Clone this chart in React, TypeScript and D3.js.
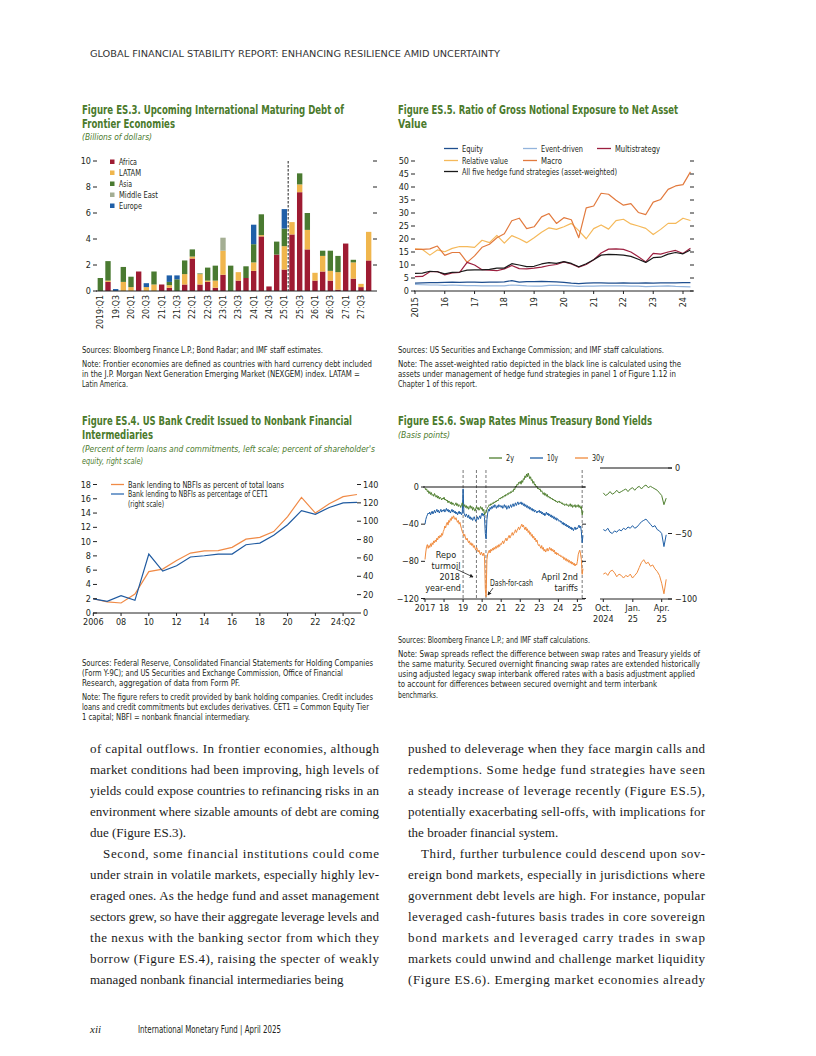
import React from 'react';
import * as d3 from 'd3';

const SANS = "'Liberation Sans Narrow','DejaVu Sans Condensed','Roboto Condensed','Liberation Sans',sans-serif";
const SERIF = "'Liberation Serif','DejaVu Serif',serif";
const GREEN = '#4b7a2c';
const INK = '#231f20';

// ---------- Figure ES.3 data ----------
const es3Quarters = ['2019Q1','2019Q2','2019Q3','2019Q4','2020Q1','2020Q2','2020Q3','2020Q4','2021Q1','2021Q2','2021Q3','2021Q4','2022Q1','2022Q2','2022Q3','2022Q4','2023Q1','2023Q2','2023Q3','2023Q4','2024Q1','2024Q2','2024Q3','2024Q4','2025Q1','2025Q2','2025Q3','2025Q4','2026Q1','2026Q2','2026Q3','2026Q4','2027Q1','2027Q2','2027Q3','2027Q4'];
const es3TickLabels = ['2019:Q1','19:Q3','20:Q1','20:Q3','21:Q1','21:Q3','22:Q1','22:Q3','23:Q1','23:Q3','24:Q1','24:Q3','25:Q1','25:Q3','26:Q1','26:Q3','27:Q1','27:Q3'];
const es3Regions = ['Africa','LATAM','Asia','Middle East','Europe'];
const es3Colors = ['#9e1b32','#f0b64d','#4a7a31','#a4ae93','#1f5fa8'];
const es3Africa = [0,0.7,0,0,0,1.5,0,0,0.5,0.25,0,0.5,2.5,0.5,0.7,0.25,1.25,0,0.8,1.0,1.55,4.2,0.35,2.8,1.65,4.35,7.6,3.2,0.8,1.5,0.8,0.1,3.65,0.95,0.3,2.35];
const es3Latam = [0,0.1,0,0.7,0.3,0,0.3,0.5,0,0.2,0,0.8,0.15,0.8,0.1,0.55,1.85,0,0.65,0,0.65,0.1,0,0,1.8,0.95,0.6,1.5,0.6,1.2,0.75,1.35,0,1.25,0.25,2.2];
const es3Asia = [1.0,1.5,0,1.15,0.8,0,0,1.0,0,0.25,0.9,1.05,0.55,0.05,1.0,1.15,0,1.95,0,0.9,1.4,1.6,0,1.0,1.35,0,0.85,1.3,0,0.4,1.55,1.25,0,0.2,0,0];
const es3MidEast = [0,0,0,0,0,0,0,0,0,0,0,0,0,0,0,0,1.0,0,0,0,0,0,0,0,0,0,0,0,0,0,0,0,0,0,0,0];
const es3Europe = [0,0,0.15,0,0,0,0.3,0,0,0.5,0.3,0,0,0,0,0,0,0,0,0,1.5,0,0,0,1.5,0,0,0,0,0,0,0,0,0,0,0];
const es3YTicks = [0,2,4,6,8,10];

// ---------- Figure ES.5 data (quarterly from 2015:Q1) ----------
const es5Start = 2015;
const es5YearLabels = ['2015','16','17','18','19','20','21','22','23','24'];
const es5YTicks = [0,5,10,15,20,25,30,35,40,45,50];
const es5Equity = [3.0,3.1,3.2,3.2,3.3,3.4,3.3,3.4,3.4,3.3,3.4,3.4,3.5,4.0,3.4,3.6,3.6,3.7,3.6,3.5,3.3,3.0,2.8,3.0,3.1,3.1,3.0,3.0,3.1,3.0,3.0,3.1,3.0,3.1,3.1,3.1,3.2,3.2];
const es5Event = [2.5,2.4,2.3,2.3,2.2,2.3,2.2,2.1,2.1,2.0,2.0,2.0,2.0,2.3,2.2,2.0,1.9,1.9,2.2,2.2,2.1,2.0,1.8,1.9,1.9,2.0,2.0,2.0,2.0,1.9,1.9,1.7,1.8,1.9,2.0,1.8,1.7,1.6];
const es5Multi = [5.5,5.6,7.4,7.5,6.2,7.0,7.2,11.0,10.0,8.2,8.0,7.8,8.5,9.8,8.6,8.5,8.8,9.2,9.8,10.2,11.2,10.4,9.2,10.2,12.0,14.6,16.1,16.2,16.0,15.0,13.2,11.2,14.5,14.2,15.0,15.6,14.4,16.4];
const es5Relative = [16.2,16.0,13.8,15.8,15.1,16.4,17.1,17.1,16.8,19.5,18.6,21.4,18.4,21.3,20.1,18.6,20.5,22.6,24.3,23.7,24.7,26.0,23.2,20.1,24.0,25.4,23.8,27.1,27.6,25.8,25.0,24.1,21.7,23.7,26.0,26.0,28.0,27.1];
const es5Macro = [16.0,16.0,16.2,17.3,13.7,14.8,14.8,11.0,13.5,16.8,18.0,20.5,22.0,27.0,28.0,24.0,24.7,28.5,29.8,26.0,28.2,27.4,20.5,32.0,32.7,37.6,37.2,34.9,33.0,33.6,30.2,29.4,34.2,35.2,39.1,40.4,40.9,45.8];
const es5All = [6.8,6.9,7.6,7.4,6.6,7.2,7.3,8.0,8.1,8.1,8.3,8.8,8.8,10.5,10.0,9.4,9.5,10.4,10.9,10.6,11.3,10.6,9.3,10.5,12.0,13.8,14.1,14.0,13.8,13.3,12.2,11.0,12.8,13.0,14.2,14.8,14.3,15.8];

// ---------- Figure ES.4 data (annual 2006 - 24:Q2) ----------
const es4Labels = ['2006','08','10','12','14','16','18','20','22','24:Q2'];
const es4LeftTicks = [0,2,4,6,8,10,12,14,16,18];
const es4RightTicks = [0,20,40,60,80,100,120,140];
const es4Loans = [2.0,1.55,1.4,2.65,5.8,6.15,7.35,8.4,8.7,8.75,9.2,10.35,10.6,11.4,13.5,16.2,14.0,15.3,16.3,16.6];
const es4Cet1 = [15.3,12.7,18.9,13.8,64.2,45.7,51.5,61.0,62.4,64.2,64.2,74.4,76.2,84.6,96.2,111.5,107.5,115.0,120.0,120.5];

// ---------- Figure ES.6 data (semi-monthly from Jan 2017) ----------
const swYearLabels = ['2017','18','19','20','21','22','23','24','25'];
const swLeftTicks = [0,-40,-80,-120];
const swRightTicks = [0,-50,-100];
const sw2y = [
  -1,-3,-2,-5,-4,-7,-5,-8,-6,-9,-8,-10,-7,-9,-11,-9,-12,-10,-13,-11,-12,-14,-12,-13,
  -11,-14,-13,-15,-14,-17,-15,-16,-18,-16,-19,-17,-18,-20,-19,-17,-20,-18,-21,-19,-20,-22,-19,-17,
  -20,-21,-19,-22,-20,-23,-21,-24,-22,-20,-23,-21,-25,-22,-24,-26,-23,-21,-24,-22,-25,-23,-21,-24,
  -22,-26,-24,-30,-28,-27,-24,-22,-21,-19,-20,-18,-19,-17,-18,-16,-17,-15,-16,-14,-15,-13,-12,-13,
  -11,-12,-10,-11,-9,-10,-8,-9,-7,-8,-6,-7,-5,-6,-4,-5,-2,-3,1,0,3,2,5,4,
  6,3,7,5,9,8,12,10,14,11,15,12,9,11,7,8,4,6,2,3,0,1,-2,-1,
  -3,-2,-5,-4,-6,-8,-6,-9,-7,-10,-8,-11,-10,-12,-11,-13,-12,-14,-13,-15,-14,-16,-15,-17,
  -16,-15,-17,-16,-18,-17,-19,-18,-20,-19,-18,-20,-19,-21,-20,-18,-21,-19,-22,-20,-21,-19,-22,-20,
  -21,-19,-22,-20,-23,-21,-30,-26];
const sw10y = [
  -40,-35,-32,-30,-28,-29,-27,-30,-28,-26,-29,-27,-25,-28,-26,-24,-27,-25,-28,-26,-24,-27,-25,-26,
  -24,-27,-25,-23,-26,-24,-27,-25,-28,-26,-24,-27,-25,-28,-26,-29,-27,-30,-28,-26,-29,-27,-30,-28,
  -2,-28,-30,-32,-29,-31,-33,-30,-34,-32,-35,-33,-36,-34,-32,-35,-37,-34,-32,-35,-33,-31,-34,-30,
  -28,-31,-29,-33,-50,-56,-35,-28,-24,-26,-22,-24,-21,-23,-20,-22,-19,-21,-23,-20,-22,-19,-21,-20,
  -22,-20,-23,-21,-19,-22,-20,-24,-22,-20,-23,-21,-19,-22,-20,-18,-21,-19,-17,-20,-18,-16,-19,-17,
  -18,-16,-19,-17,-20,-18,-21,-19,-22,-20,-23,-21,-24,-22,-25,-23,-26,-24,-27,-25,-26,-28,-26,-27,
  -25,-28,-26,-29,-27,-30,-28,-31,-29,-27,-30,-28,-31,-29,-32,-30,-33,-31,-34,-32,-35,-33,-36,-34,
  -35,-37,-36,-38,-37,-40,-38,-41,-39,-42,-40,-43,-41,-44,-42,-45,-43,-46,-44,-47,-45,-43,-46,-44,
  -45,-43,-41,-44,-42,-48,-60,-52];
const sw30y = [
  -78,-70,-64,-62,-66,-63,-65,-61,-64,-60,-62,-58,-60,-57,-59,-55,-57,-53,-55,-52,-54,-50,-52,-48,
  -46,-42,-44,-40,-38,-41,-36,-38,-34,-36,-32,-34,-31,-33,-35,-33,-36,-38,-36,-40,-38,-42,-45,-48,
  -50,-53,-51,-55,-57,-55,-58,-60,-58,-62,-60,-63,-61,-65,-63,-66,-68,-65,-67,-70,-68,-71,-73,-70,
  -72,-74,-71,-75,-110,-118,-78,-72,-70,-68,-71,-67,-69,-66,-68,-65,-67,-64,-66,-63,-65,-62,-64,-61,
  -62,-60,-58,-61,-59,-57,-55,-58,-56,-54,-52,-55,-53,-51,-49,-52,-50,-48,-46,-49,-47,-45,-43,-46,
  -44,-42,-40,-43,-41,-44,-46,-43,-47,-45,-49,-47,-51,-49,-53,-51,-55,-53,-57,-55,-59,-57,-61,-63,
  -62,-64,-66,-63,-67,-65,-69,-67,-70,-68,-66,-69,-67,-65,-68,-66,-69,-67,-70,-68,-72,-70,-73,-71,
  -72,-74,-73,-75,-74,-76,-75,-78,-76,-79,-77,-80,-78,-81,-79,-82,-80,-83,-81,-84,-82,-85,-83,-84,
  -80,-73,-70,-68,-72,-78,-94,-88];
const swEvents = [2019.0, 2019.7, 2020.2, 2025.25];
// weekly from 1 Oct 2024
const swRecentStart = new Date(2024, 9, 1);
const swRecent2y = [-19,-21,-20,-18,-20,-19,-17,-19,-18,-17,-16,-18,-16,-15,-17,-15,-14,-16,-14,-13,-15,-14,-15,-16,-17,-19,-21,-28,-23];
const swRecent10y = [-47,-48,-46,-49,-50,-48,-49,-47,-48,-46,-47,-45,-46,-44,-46,-45,-43,-41,-40,-39,-41,-43,-45,-44,-47,-48,-50,-60,-51];
const swRecent30y = [-81,-80,-82,-79,-78,-80,-83,-81,-82,-84,-82,-83,-81,-84,-82,-80,-76,-72,-70,-73,-72,-75,-74,-77,-79,-82,-88,-96,-85];
const swRecentLabels = [[new Date(2024, 9, 1), 'Oct.', '2024'], [new Date(2025, 0, 1), 'Jan.', '25'], [new Date(2025, 3, 1), 'Apr.', '25']] as const;

// ---------- text ----------
const bodyLeft = [
  'of capital outflows. In frontier economies, although',
  'market conditions had been improving, high levels of',
  'yields could expose countries to refinancing risks in an',
  'environment where sizable amounts of debt are coming',
  'due (Figure ES.3).',
  'Second, some financial institutions could come',
  'under strain in volatile markets, especially highly lev-',
  'eraged ones. As the hedge fund and asset management',
  'sectors grew, so have their aggregate leverage levels and',
  'the nexus with the banking sector from which they',
  'borrow (Figure ES.4), raising the specter of weakly',
  'managed nonbank financial intermediaries being',
];
const bodyRight = [
  'pushed to deleverage when they face margin calls and',
  'redemptions. Some hedge fund strategies have seen',
  'a steady increase of leverage recently (Figure ES.5),',
  'potentially exacerbating sell-offs, with implications for',
  'the broader financial system.',
  'Third, further turbulence could descend upon sov-',
  'ereign bond markets, especially in jurisdictions where',
  'government debt levels are high. For instance, popular',
  'leveraged cash-futures basis trades in core sovereign',
  'bond markets and leveraged carry trades in swap',
  'markets could unwind and challenge market liquidity',
  '(Figure ES.6). Emerging market economies already',
];

const Tx = ({ x, y, w, s = 8.5, a = 'start', f = INK, b = false, i = false, fam = SANS, la = 'spacingAndGlyphs', children, ...rest }: any) => (
  <text x={x} y={y} fontSize={s} textAnchor={a} fill={f} fontWeight={b ? 700 : 400}
    fontStyle={i ? 'italic' : 'normal'} fontFamily={fam}
    {...(w ? { textLength: w, lengthAdjust: la } : {})} {...rest}>{children}</text>
);

function ES3() {
  const x = d3.scaleBand<string>().domain(es3Quarters).range([96.5, 372.5]).paddingInner(0.3).paddingOuter(0.15);
  const y = d3.scaleLinear().domain([0, 10]).range([291, 161]);
  const rows = es3Quarters.map((q, i) => ({ q, Africa: es3Africa[i], LATAM: es3Latam[i], Asia: es3Asia[i], 'Middle East': es3MidEast[i], Europe: es3Europe[i] }));
  const series = d3.stack<any>().keys(es3Regions)(rows);
  const bw = x.bandwidth();
  const dashX = (x(es3Quarters[24])! + bw + x(es3Quarters[25])!) / 2;
  const legW = [18, 22, 13, 39, 23];
  return (
    <g>
      <Tx x={82} y={114} w={262} s={11.5} b f={GREEN}>Figure ES.3. Upcoming International Maturing Debt of</Tx>
      <Tx x={82} y={128} w={93} s={11.5} b f={GREEN}>Frontier Economies</Tx>
      <Tx x={82} y={140} w={70} s={9.5} i f={GREEN}>(Billions of dollars)</Tx>
      {series.map((s, k) => (
        <g key={k} fill={es3Colors[k]}>
          {s.map((d, i) => d[1] - d[0] > 0 ? (
            <rect key={i} x={x(es3Quarters[i])} width={bw} y={y(d[1])} height={y(d[0]) - y(d[1])} />
          ) : null)}
        </g>
      ))}
      <line x1={dashX} x2={dashX} y1={161} y2={291} stroke="#222" strokeWidth={1} strokeDasharray="2.5,1.5" />
      <line x1={96} x2={373} y1={291} y2={291} stroke="#222" strokeWidth={1} />
      {es3YTicks.map(t => (
        <g key={t}>
          <Tx x={91} y={y(t) + 3} s={9} a="end">{t}</Tx>
          <line x1={93} x2={97} y1={y(t)} y2={y(t)} stroke="#222" />
          <line x1={373} x2={377} y1={y(t)} y2={y(t)} stroke="#222" />
        </g>
      ))}
      {es3TickLabels.map((l, k) => {
        const cx = x(es3Quarters[k * 2])! + bw / 2;
        return <Tx key={l} x={0} y={0} s={8.8} a="end" transform={`translate(${cx + 3},295) rotate(-90)`}>{l}</Tx>;
      })}
      {es3Regions.map((r, k) => (
        <g key={r}>
          <rect x={110} y={159.5 + k * 11} width={4.5} height={4.5} fill={es3Colors[k]} />
          <Tx x={119} y={165 + k * 11} w={legW[k]} s={9}>{r}</Tx>
        </g>
      ))}
    </g>
  );
}

function ES5() {
  const x = d3.scaleLinear().domain([2015, 2024]).range([415, 683]);
  const y = d3.scaleLinear().domain([0, 50]).range([291, 161]);
  const line = (vals: number[]) => d3.line<number>().x((_, i) => x(es5Start + i / 4)).y(v => y(v))(vals) || '';
  const lines = [
    { v: es5Event, c: '#93b4dc', n: 'Event-driven' },
    { v: es5Equity, c: '#1f4f8f', n: 'Equity' },
    { v: es5Relative, c: '#f5b95a', n: 'Relative value' },
    { v: es5Macro, c: '#e27a3e', n: 'Macro' },
    { v: es5Multi, c: '#9c1f3f', n: 'Multistrategy' },
    { v: es5All, c: '#1a1a1a', n: 'All five' },
  ];
  const leg = [
    { lx: 444, ly: 148.5, c: '#1f4f8f', t: 'Equity', w: 21 },
    { lx: 523, ly: 148.5, c: '#93b4dc', t: 'Event-driven', w: 42 },
    { lx: 597, ly: 148.5, c: '#9c1f3f', t: 'Multistrategy', w: 45 },
    { lx: 444, ly: 160.5, c: '#f5b95a', t: 'Relative value', w: 46 },
    { lx: 523, ly: 160.5, c: '#e27a3e', t: 'Macro', w: 21 },
    { lx: 444, ly: 171.5, c: '#1a1a1a', t: 'All five hedge fund strategies (asset-weighted)', w: 155 },
  ];
  return (
    <g>
      <Tx x={398} y={114} w={280} s={11.5} b f={GREEN}>Figure ES.5. Ratio of Gross Notional Exposure to Net Asset</Tx>
      <Tx x={398} y={128} w={29} s={11.5} b f={GREEN}>Value</Tx>
      {leg.map(l => (
        <g key={l.t}>
          <line x1={l.lx} x2={l.lx + 14} y1={l.ly} y2={l.ly} stroke={l.c} strokeWidth={1.3} />
          <Tx x={l.lx + 18} y={l.ly + 3} w={l.w} s={9}>{l.t}</Tx>
        </g>
      ))}
      {lines.map(l => <path key={l.n} d={line(l.v)} fill="none" stroke={l.c} strokeWidth={1.2} strokeLinejoin="round" />)}
      <line x1={414} x2={693} y1={291} y2={291} stroke="#222" />
      {es5YTicks.map(t => (
        <g key={t}>
          <Tx x={409} y={y(t) + 3} s={9} a="end">{t}</Tx>
          <line x1={411} x2={415} y1={y(t)} y2={y(t)} stroke="#222" />
          <line x1={690} x2={694} y1={y(t)} y2={y(t)} stroke="#222" />
        </g>
      ))}
      {es5YearLabels.map((l, k) => (
        <g key={l}>
          <line x1={x(2015 + k)} x2={x(2015 + k)} y1={291} y2={294} stroke="#222" />
          <Tx x={0} y={0} s={9} a="end" transform={`translate(${x(2015 + k) + 3},297) rotate(-90)`}>{l}</Tx>
        </g>
      ))}
    </g>
  );
}

function ES4() {
  const x = d3.scaleLinear().domain([0, 19]).range([93.3, 357]);
  const yL = d3.scaleLinear().domain([0, 18]).range([613, 484.5]);
  const yR = d3.scaleLinear().domain([0, 140]).range([613, 484.5]);
  const lineL = d3.line<number>().x((_, i) => x(i)).y(v => yL(v))(es4Loans) || '';
  const lineR = d3.line<number>().x((_, i) => x(i)).y(v => yR(v))(es4Cet1) || '';
  return (
    <g>
      <Tx x={82} y={425} w={270} s={11.5} b f={GREEN}>Figure ES.4. US Bank Credit Issued to Nonbank Financial</Tx>
      <Tx x={82} y={439} w={71} s={11.5} b f={GREEN}>Intermediaries</Tx>
      <Tx x={82} y={452} w={293} s={9.5} i f={GREEN}>(Percent of term loans and commitments, left scale; percent of shareholder's</Tx>
      <Tx x={82} y={464} w={61} s={9.5} i f={GREEN}>equity, right scale)</Tx>
      <line x1={111} x2={124} y1={484.5} y2={484.5} stroke="#f08a46" strokeWidth={1.3} />
      <Tx x={128} y={487.5} w={156} s={9}>Bank lending to NBFIs as percent of total loans</Tx>
      <line x1={111} x2={124} y1={494} y2={494} stroke="#2f6db3" strokeWidth={1.3} />
      <Tx x={128} y={497} w={140} s={9}>Bank lending to NBFIs as percentage of CET1</Tx>
      <Tx x={128} y={506.5} w={36} s={9}>(right scale)</Tx>
      <path d={lineL} fill="none" stroke="#f08a46" strokeWidth={1.2} />
      <path d={lineR} fill="none" stroke="#1f5aa0" strokeWidth={1.2} />
      <line x1={93} x2={357} y1={613} y2={613} stroke="#222" />
      {es4LeftTicks.map(t => (
        <g key={t}>
          <Tx x={91} y={yL(t) + 3} s={9} a="end">{t}</Tx>
          <line x1={93} x2={97} y1={yL(t)} y2={yL(t)} stroke="#222" />
        </g>
      ))}
      {es4RightTicks.map(t => (
        <g key={t}>
          <line x1={357} x2={361} y1={yR(t)} y2={yR(t)} stroke="#222" />
          <Tx x={363} y={yR(t) + 3} s={9}>{t}</Tx>
        </g>
      ))}
      {es4Labels.map((l, k) => (
        <g key={l}>
          <line x1={x(k * 2)} x2={x(k * 2)} y1={613} y2={616} stroke="#222" />
          <Tx x={x(k * 2)} y={625} s={9} a="middle">{l}</Tx>
        </g>
      ))}
    </g>
  );
}

function ES6() {
  const x = d3.scaleLinear().domain([2017, 2025]).range([425, 577.4]);
  const y = d3.scaleLinear().domain([-120, 0]).range([598.5, 487]);
  const xr = d3.scaleTime().domain([new Date(2024, 9, 1), new Date(2025, 3, 1)]).range([603.3, 661.7]);
  const yr = d3.scaleLinear().domain([-100, 0]).range([599, 468]);
  const ln = (vals: number[]) => d3.line<number>().x((_, i) => x(2017 + i / 24)).y(v => y(v))(vals) || '';
  const lnr = (vals: number[]) => d3.line<number>().x((_, i) => xr(d3.timeDay.offset(swRecentStart, i * 7))).y(v => yr(v))(vals) || '';
  const C2 = '#4f7f2f', C10 = '#1f5fa6', C30 = '#f08a3c';
  return (
    <g>
      <defs>
        <marker id="arr" viewBox="0 0 6 6" refX="5" refY="3" markerWidth="5" markerHeight="5" orient="auto">
          <path d="M0,0 L6,3 L0,6 z" fill="#222" />
        </marker>
      </defs>
      <Tx x={398} y={425} w={254} s={11.5} b f={GREEN}>Figure ES.6. Swap Rates Minus Treasury Bond Yields</Tx>
      <Tx x={398} y={438} w={52} s={9.5} i f={GREEN}>(Basis points)</Tx>
      {[{ c: C2, t: '2y', lx: 489, w: 8 }, { c: C10, t: '10y', lx: 530, w: 11 }, { c: C30, t: '30y', lx: 575, w: 12 }].map(l => (
        <g key={l.t}>
          <line x1={l.lx} x2={l.lx + 13} y1={458} y2={458} stroke={l.c} strokeWidth={1.3} />
          <Tx x={l.lx + 17} y={461} w={l.w} s={9}>{l.t}</Tx>
        </g>
      ))}
      {swEvents.map(e => <line key={e} x1={x(e)} x2={x(e)} y1={470} y2={599} stroke="#555" strokeWidth={0.8} strokeDasharray="3,2" />)}
      <path d={ln(sw30y)} fill="none" stroke={C30} strokeWidth={1} strokeLinejoin="round" />
      <path d={ln(sw10y)} fill="none" stroke={C10} strokeWidth={1} strokeLinejoin="round" />
      <path d={ln(sw2y)} fill="none" stroke={C2} strokeWidth={1} strokeLinejoin="round" />
      <line x1={423} x2={585} y1={y(0)} y2={y(0)} stroke="#111" strokeWidth={1} />
      <line x1={423} x2={585} y1={599} y2={599} stroke="#222" />
      {swLeftTicks.map(t => (
        <g key={t}>
          <Tx x={419} y={y(t) + 3} s={9} a="end">{t === 0 ? '0' : `\u2212${-t}`}</Tx>
          <line x1={421} x2={425} y1={y(t)} y2={y(t)} stroke="#222" />
          <line x1={582} x2={586} y1={y(t)} y2={y(t)} stroke="#222" />
        </g>
      ))}
      {swYearLabels.map((l, k) => (
        <g key={l}>
          <line x1={x(2017 + k)} x2={x(2017 + k)} y1={599} y2={602} stroke="#222" />
          <Tx x={x(2017 + k)} y={611} s={9} a="middle">{l}</Tx>
        </g>
      ))}
      <path d={lnr(swRecent30y)} fill="none" stroke={C30} strokeWidth={1} />
      <path d={lnr(swRecent10y)} fill="none" stroke={C10} strokeWidth={1} />
      <path d={lnr(swRecent2y)} fill="none" stroke={C2} strokeWidth={1} />
      <line x1={600} x2={672} y1={yr(0)} y2={yr(0)} stroke="#111" strokeWidth={1} />
      <line x1={600} x2={672} y1={599} y2={599} stroke="#222" />
      {swRightTicks.map(t => (
        <g key={t}>
          <line x1={668} x2={672} y1={yr(t)} y2={yr(t)} stroke="#222" />
          <Tx x={675} y={yr(t) + 3} s={9}>{t === 0 ? '0' : `\u2212${-t}`}</Tx>
        </g>
      ))}
      {swRecentLabels.map(([d, a, b]) => (
        <g key={a}>
          <line x1={xr(d)} x2={xr(d)} y1={599} y2={602} stroke="#222" />
          <Tx x={xr(d)} y={611} s={9} a="middle">{a}</Tx>
          <Tx x={xr(d)} y={622} s={9} a="middle">{b}</Tx>
        </g>
      ))}
      <Tx x={446} y={558} s={9} a="middle">Repo</Tx>
      <Tx x={446} y={569} s={9} a="middle">turmoil</Tx>
      <line x1={456} y1={569} x2={473} y2={577} stroke="#222" strokeWidth={0.8} markerEnd="url(#arr)" />
      <Tx x={460} y={580} s={9} a="end">2018</Tx>
      <Tx x={461} y={590.5} s={9} a="end">year-end</Tx>
      <Tx x={490} y={586} s={9} w={43}>Dash-for-cash</Tx>
      <line x1={493} y1={588} x2={488} y2={595} stroke="#222" strokeWidth={0.8} markerEnd="url(#arr)" />
      <Tx x={578} y={580} s={9} a="end">April 2nd</Tx>
      <Tx x={578} y={590.5} s={9} a="end">tariffs</Tx>
    </g>
  );
}

function Notes() {
  const n = (x: number, y: number, w: number, t: string) => <Tx key={t} x={x} y={y} w={w} s={8.4}>{t}</Tx>;
  return (
    <g>
      {n(82, 353, 241, 'Sources: Bloomberg Finance L.P.; Bond Radar; and IMF staff estimates.')}
      {n(82, 367, 290, 'Note: Frontier economies are defined as countries with hard currency debt included')}
      {n(82, 377, 278, 'in the J.P. Morgan Next Generation Emerging Market (NEXGEM) index. LATAM =')}
      {n(82, 387, 46, 'Latin America.')}
      {n(398, 353, 266, 'Sources: US Securities and Exchange Commission; and IMF staff calculations.')}
      {n(398, 367, 283, 'Note: The asset-weighted ratio depicted in the black line is calculated using the')}
      {n(398, 377, 278, 'assets under management of hedge fund strategies in panel 1 of Figure 1.12 in')}
      {n(398, 387, 79, 'Chapter 1 of this report.')}
      {n(82, 666, 291, 'Sources: Federal Reserve, Consolidated Financial Statements for Holding Companies')}
      {n(82, 676, 261, '(Form Y-9C); and US Securities and Exchange Commission, Office of Financial')}
      {n(82, 686, 158, 'Research, aggregation of data from Form PF.')}
      {n(82, 700, 291, 'Note: The figure refers to credit provided by bank holding companies. Credit includes')}
      {n(82, 710, 287, 'loans and credit commitments but excludes derivatives. CET1 = Common Equity Tier')}
      {n(82, 720, 168, '1 capital; NBFI = nonbank financial intermediary.')}
      {n(398, 643, 192, 'Sources: Bloomberg Finance L.P.; and IMF staff calculations.')}
      {n(398, 656.5, 302, 'Note: Swap spreads reflect the difference between swap rates and Treasury yields of')}
      {n(398, 666.8, 302, 'the same maturity. Secured overnight financing swap rates are extended historically')}
      {n(398, 677.1, 297, 'using adjusted legacy swap interbank offered rates with a basis adjustment applied')}
      {n(398, 687.4, 259, 'to account for differences between secured overnight and term interbank')}
      {n(398, 698, 40, 'benchmarks.')}
    </g>
  );
}

function Body() {
  const col = (lines: string[], x0: number, width: number, indentIdx: number, lastShort: number[]) =>
    lines.map((t, i) => {
      const ind = i === indentIdx ? 13 : 0;
      const just = !lastShort.includes(i);
      return (
        <Tx key={i} x={x0 + ind} y={753 + i * 21} s={13} fam={SERIF} f="#1a1a1a"
          w={just ? width - ind : undefined} la="spacing">{t}</Tx>
      );
    });
  return (
    <g>
      {col(bodyLeft, 90, 289, 5, [4, 11])}
      {col(bodyRight, 408, 297, 5, [4])}
    </g>
  );
}

export default function App() {
  return (
    <svg width={816} height={1056} style={{ position: 'absolute', left: 0, top: 0 }} xmlns="http://www.w3.org/2000/svg">
      <rect width={816} height={1056} fill="#fff" />
      <Tx x={90} y={57} w={410} s={9} f="#333">GLOBAL FINANCIAL STABILITY REPORT: ENHANCING RESILIENCE AMID UNCERTAINTY</Tx>
      <ES3 />
      <ES5 />
      <ES4 />
      <ES6 />
      <Notes />
      <Body />
      <Tx x={90} y={1033} s={11} i fam={SERIF}>xii</Tx>
      <Tx x={138} y={1033} w={143} s={10}>International Monetary Fund | April 2025</Tx>
    </svg>
  );
}
